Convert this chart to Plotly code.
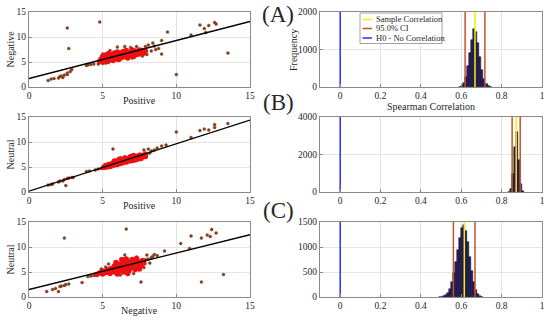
import plotly.graph_objects as go
import numpy as np

W, H = 550, 321
FONT = "Liberation Serif"

# ---------------- scatter data ----------------
# (A) Positive vs Negative
pos_neg_core = [(4.8,5.1),(4.9,5.6),(5.0,5.3),(5.0,6.1),(5.1,5.7),(5.2,5.0),(5.2,6.4),(5.3,5.9),(5.4,5.4),(5.4,6.7),
                (5.5,6.1),(5.5,5.6),(5.6,6.5),(5.7,5.3),(5.7,6.0),(5.8,6.8),(5.9,5.6),(5.9,6.3),(6.0,6.0),(6.0,7.0),
                (6.1,5.5),(6.2,6.3),(6.2,6.8),(6.3,5.9),(6.4,6.5),(6.4,7.1),(6.5,6.1),(6.5,6.7),(6.6,7.3),(6.7,5.8),
                (6.7,6.4),(6.8,6.9),(6.9,6.3),(7.0,6.6),(7.0,7.4),(7.1,6.1),(7.2,6.8),(7.2,7.2),(7.3,6.5),(7.4,7.0),
                (7.5,6.6),(7.5,7.4),(7.6,7.0),(7.7,7.3),(7.8,6.8),(7.9,7.2),(5.3,5.5),(5.8,5.9),(6.3,6.3),(6.8,6.6),
                (7.3,6.9),(6.1,6.6),(6.6,6.2),(7.1,7.1)]
pos_neg_other = [(2.6,11.8),(4.8,13.0),(2.7,7.7),(13.5,6.8),(10.0,2.5),(9.4,11.0),(11.0,10.4),(11.6,12.4),(11.9,11.7),
                 (12.2,12.3),(12.0,10.9),(12.6,12.9),(12.7,12.6),(9.0,6.6),(1.3,1.3),(1.5,1.6),(1.7,1.7),(2.0,1.8),
                 (2.1,2.1),(2.2,2.2),(2.3,1.9),(2.4,2.4),(2.6,2.5),(2.6,2.8),(2.8,3.1),(2.9,3.5),(3.9,4.3),(4.0,4.4),
                 (4.2,4.5),(4.4,4.6),(4.7,4.6),(5.0,4.7),(4.8,4.9),(7.9,8.1),(8.1,8.4),(8.4,8.8),(8.6,7.5),(8.3,7.2),
                 (8.8,7.7),(8.0,6.5),(6.0,8.0),(6.5,8.1),(7.3,8.1),(6.9,7.9),(9.0,9.3),(7.7,6.2),(5.5,7.3),(5.0,6.6),
                 (8.5,8.2),(7.0,5.8),(5.4,4.9)]
fit_pos_neg = (1.7, 0.76)   # intercept, slope

# (B) Positive vs Neutral
pos_neu_core = [(5.1,4.9),(5.2,5.3),(5.3,5.0),(5.4,5.5),(5.5,5.1),(5.6,5.6),(5.6,5.3),(5.7,5.8),(5.8,5.4),(5.9,5.9),
                (5.9,5.6),(6.0,6.1),(6.0,5.5),(6.1,5.8),(6.2,6.2),(6.2,5.7),(6.3,6.0),(6.4,6.4),(6.4,5.9),(6.5,6.2),
                (6.6,6.6),(6.6,6.0),(6.7,6.3),(6.8,6.7),(6.8,6.2),(6.9,6.5),(7.0,6.9),(7.0,6.3),(7.1,6.6),(7.2,7.0),
                (7.2,6.4),(7.3,6.8),(7.4,7.2),(7.4,6.6),(7.5,6.9),(7.6,7.3),(7.6,6.7),(7.7,7.0),(7.8,7.4),(7.9,7.1),
                (6.1,6.5),(6.5,6.8),(5.8,6.2),(7.1,7.3),(6.9,7.1)]
pos_neu_other = [(5.7,8.6),(1.3,1.4),(1.5,1.5),(1.6,1.6),(2.0,2.0),(2.1,2.2),(2.3,2.2),(2.5,1.3),(2.4,2.5),(2.6,2.7),
                 (2.7,2.8),(2.9,2.9),(3.0,2.9),(3.9,4.1),(4.1,4.2),(4.5,4.4),(4.7,4.6),(4.9,4.7),(5.0,5.1),(9.0,9.2),
                 (9.3,9.4),(8.7,8.8),(10.0,12.0),(11.0,10.9),(11.6,12.3),(11.9,12.6),(12.2,12.4),(12.6,13.5),
                 (12.6,12.9),(13.5,13.7),(8.3,8.2),(8.1,8.6),(8.5,8.4),(7.8,8.4),(8.0,7.6),(8.2,7.8),(7.5,7.6),
                 (6.2,6.9),(5.6,5.0),(6.3,5.6),(7.0,6.1),(6.6,7.0),(7.9,7.8)]
fit_pos_neu = (0.15, 0.95)

# (C) Negative vs Neutral
neg_neu_core = [(4.6,4.5),(4.8,4.8),(5.0,4.6),(5.0,5.2),(5.2,4.9),(5.3,5.4),(5.4,5.0),(5.5,5.6),(5.6,5.2),(5.7,5.8),
                (5.8,5.0),(5.8,6.2),(5.9,5.5),(6.0,6.0),(6.1,5.2),(6.1,6.6),(6.2,5.7),(6.3,6.2),(6.4,5.0),(6.4,6.8),
                (6.5,5.5),(6.5,7.2),(6.6,6.0),(6.7,6.5),(6.8,5.3),(6.8,7.0),(6.9,5.8),(7.0,6.3),(7.0,7.5),(7.1,6.8),
                (7.2,5.5),(7.2,7.2),(7.3,6.0),(7.4,6.6),(7.5,7.0),(7.5,5.6),(7.6,6.3),(7.7,7.3),(7.8,6.8),(6.3,7.5),
                (5.9,6.9),(6.6,7.6),(7.3,7.7),(6.0,4.6),(6.7,4.7),(5.5,4.7)]
neg_neu_other = [(2.4,11.8),(6.6,13.6),(1.2,1.1),(1.6,1.5),(1.8,1.7),(2.0,1.1),(2.1,2.1),(2.2,2.2),(2.4,2.3),(2.5,2.5),
                 (2.7,2.6),(3.6,2.9),(4.0,4.1),(4.2,4.2),(4.4,4.3),(7.6,3.0),(11.7,3.0),(13.2,4.5),(10.3,10.7),
                 (11.0,12.2),(11.7,11.8),(12.1,12.4),(12.3,12.1),(12.4,13.5),(12.7,12.8),(10.9,9.7),(9.2,9.2),
                 (8.5,8.5),(8.3,7.9),(8.0,8.4),(6.5,8.4),(8.7,8.3),(8.4,8.1),(8.1,7.6),(7.9,7.5),(5.4,6.6),(5.2,6.0),
                 (7.1,4.7),(7.8,5.9),(6.2,4.4),(4.9,5.6),(8.2,6.8),(7.3,8.0)]
fit_neg_neu = (1.5, 0.73)

scatter_x_ticks = [0, 5, 10, 15]
scatter_y_ticks = [0, 5, 10, 15]

# ---------------- bootstrap histograms ----------------
bin_width = 0.01
hist_A_centers = [0.595,0.605,0.615,0.625,0.635,0.645,0.655,0.665,0.675,0.685,0.695,0.705,0.715,0.725,0.735,0.745]
hist_A_counts  = [10,35,110,280,560,900,1250,1540,1480,1180,800,460,220,90,30,8]
sample_A, ci_A = 0.668, (0.619, 0.717)

hist_B_centers = [0.835,0.845,0.855,0.865,0.875,0.885,0.895,0.905]
hist_B_counts  = [20,180,980,2400,3200,1700,450,60]
sample_B, ci_B = 0.872, (0.852, 0.892)

hist_C_centers = [0.495,0.505,0.515,0.525,0.535,0.545,0.555,0.565,0.575,0.585,0.595,0.605,0.615,0.625,
                  0.635,0.645,0.655,0.665,0.675,0.685,0.695,0.705]
hist_C_counts  = [5,10,20,45,90,170,300,480,700,950,1180,1380,1450,1330,1100,800,520,300,150,60,20,5]
sample_C, ci_C = 0.615, (0.561, 0.668)

h0_value = 0.0
hist_x_ticks = [0, 0.2, 0.4, 0.6, 0.8, 1]
hist_x_ticklabels = ["0", "0.2", "0.4", "0.6", "0.8", "1"]
hist_A_yticks = [0, 1000, 2000]
hist_B_yticks = [0, 2000, 4000]
hist_C_yticks = [0, 500, 1000, 1500]

legend_labels = ["Sample Correlation", "95.0% CI", "H0 - No Correlation"]

# ---------------- styles ----------------
C_CORE = "#ee1010"
C_OTHER = "#6e4a1c"
C_BAR = "#2d1f70"
C_SAMPLE = "#f2f200"
C_CI = "#c8502a"
C_H0 = "#2f2fff"
FRAME = "#8a8a8a"
GRID = "#e4e4e4"

def px_x(p): return p / W
def px_y(p): return 1 - p / H

rows = [(12, 87), (117, 192), (222, 297)]
left_dom = [px_x(29), px_x(250)]
right_dom = [px_x(320), px_x(542)]

fig = go.Figure()

scatters = [
    (pos_neg_core, pos_neg_other, fit_pos_neg),
    (pos_neu_core, pos_neu_other, fit_pos_neu),
    (neg_neu_core, neg_neu_other, fit_neg_neu),
]
hists = [
    (hist_A_centers, hist_A_counts, sample_A, ci_A, hist_A_yticks),
    (hist_B_centers, hist_B_counts, sample_B, ci_B, hist_B_yticks),
    (hist_C_centers, hist_C_counts, sample_C, ci_C, hist_C_yticks),
]

def axis_common():
    return dict(showline=True, mirror=True, linecolor=FRAME, linewidth=1,
                ticks="inside", ticklen=3, tickcolor=FRAME, automargin=False,
                showgrid=True, gridcolor=GRID, gridwidth=1, zeroline=False,
                tickfont=dict(family=FONT, size=9.5, color="#262626"))

for i in range(3):
    sx = 2 * i + 1
    hx = 2 * i + 2
    xs = "x" if sx == 1 else f"x{sx}"
    ys = "y" if sx == 1 else f"y{sx}"
    core, other, fit = scatters[i]
    ox, oy = zip(*other)
    cx, cy = zip(*core)
    fig.add_trace(go.Scatter(x=ox, y=oy, mode="markers", xaxis=xs, yaxis=ys, showlegend=False,
                             marker=dict(size=3.0, color=C_OTHER, line=dict(width=0.4, color="#b03020"))))
    fig.add_trace(go.Scatter(x=cx, y=cy, mode="markers", xaxis=xs, yaxis=ys, showlegend=False,
                             marker=dict(size=5.5, color=C_CORE, line=dict(width=0))))
    lx = np.array([0.0, 15.0])
    fig.add_trace(go.Scatter(x=lx, y=fit[0] + fit[1] * lx, mode="lines", xaxis=xs, yaxis=ys,
                             showlegend=False, line=dict(color="black", width=1.3)))

    hxs, hys = f"x{hx}", f"y{hx}"
    centers, counts, samp, ci, yt = hists[i]
    ymax = yt[-1]
    fig.add_trace(go.Bar(x=centers, y=counts, width=bin_width, xaxis=hxs, yaxis=hys, showlegend=False,
                         marker=dict(color=C_BAR, line=dict(color="black", width=0.5))))
    for v, col in [(ci[0], C_CI), (ci[1], C_CI), (samp, C_SAMPLE), (h0_value, C_H0)]:
        fig.add_trace(go.Scatter(x=[v, v], y=[0, ymax], mode="lines", xaxis=hxs, yaxis=hys,
                                 showlegend=False, line=dict(color=col, width=1.5)))

    top, bot = rows[i]
    ydom = [px_y(bot), px_y(top)]
    k = "" if sx == 1 else str(sx)
    ax = axis_common(); ax.update(domain=left_dom, range=[0, 15], tickvals=scatter_x_ticks, anchor=ys)
    ay = axis_common(); ay.update(domain=ydom, range=[0, 15], tickvals=scatter_y_ticks, anchor=xs)
    fig.layout[f"xaxis{k}"] = ax
    fig.layout[f"yaxis{k}"] = ay
    bx = axis_common(); bx.update(domain=right_dom, range=[-0.1, 1.0], tickvals=hist_x_ticks,
                                  ticktext=hist_x_ticklabels, anchor=hys)
    by = axis_common(); by.update(domain=ydom, range=[0, ymax], tickvals=yt, anchor=hxs)
    fig.layout[f"xaxis{hx}"] = bx
    fig.layout[f"yaxis{hx}"] = by

annotations = []
def text(x, y, s, size=10, angle=0, xanchor="center"):
    annotations.append(dict(x=px_x(x), y=px_y(y), xref="paper", yref="paper", text=s, showarrow=False,
                            textangle=angle, xanchor=xanchor, yanchor="middle",
                            font=dict(family=FONT, size=size, color="#262626")))

scatter_labels = [("Positive", "Negative"), ("Positive", "Neutral"), ("Negative", "Neutral")]
for i, (xl, yl) in enumerate(scatter_labels):
    top, bot = rows[i]
    text(139, bot + 13, xl)
    text(10, (top + bot) / 2, yl, angle=-90)
text(293, 50, "Frequency", angle=-90)
text(431, 107, "Spearman Correlation")
for lab, yy in [("(A)", 14), ("(B)", 102), ("(C)", 210)]:
    text(278, yy, lab, size=23)

# manual legend
shapes = [dict(type="rect", xref="paper", yref="paper", x0=px_x(360), x1=px_x(442), y0=px_y(43.5), y1=px_y(13),
               fillcolor="white", line=dict(color="#8a8a8a", width=0.8), layer="above")]
for lab, col, yy in zip(legend_labels, [C_SAMPLE, C_CI, C_H0], [19.5, 28.5, 38]):
    shapes.append(dict(type="line", xref="paper", yref="paper", x0=px_x(362.5), x1=px_x(372), y0=px_y(yy), y1=px_y(yy),
                       line=dict(color=col, width=1.5), layer="above"))
    text(373.5, yy, lab, size=8.5, xanchor="left")

fig.update_layout(width=W, height=H, margin=dict(l=0, r=0, t=0, b=0),
                  paper_bgcolor="white", plot_bgcolor="white", bargap=0,
                  annotations=annotations, shapes=shapes,
                  font=dict(family=FONT))

fig.write_html("out.html", config={"displayModeBar": False},
               post_script="document.body.style.margin='0';document.body.style.overflow='hidden';")
